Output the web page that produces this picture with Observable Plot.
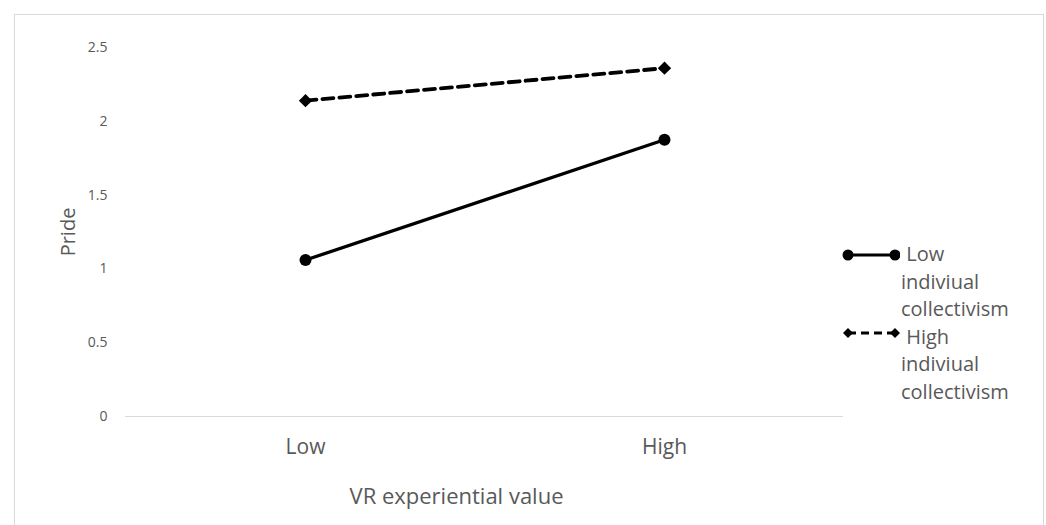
<!DOCTYPE html>
<html>
<head>
<meta charset="utf-8">
<script src="https://cdn.jsdelivr.net/npm/d3@7"></script>
<script src="https://cdn.jsdelivr.net/npm/@observablehq/plot@0.6"></script>
<style>
  html, body { margin: 0; padding: 0; background: #fff; }
  #wrap { position: relative; width: 1046px; height: 525px; overflow: hidden; font-family: "Open Sans", sans-serif; }
  #frame { position: absolute; left: 14px; top: 14px; width: 1030px; height: 600px; border: 1px solid #d9d9d9; box-sizing: border-box; pointer-events: none; }
  #legend { position: absolute; left: 840px; top: 240px; color: #595959; font-size: 20px; }
  .item { position: absolute; left: 0; width: 206px; }
  .item svg { position: absolute; left: 0; }
  .item .txt { position: absolute; left: 61px; top: 0; line-height: 27.5px; white-space: nowrap; }
</style>
</head>
<body>
<div id="wrap">
  <div id="chart"></div>
  <div id="frame"></div>
  <div id="legend"></div>
</div>
<script>
// Data
const categories = ["Low", "High"];
const seriesNames = ["Low indiviual collectivism", "High indiviual collectivism"];
const lowCollectivism = [1.06, 1.875];
const highCollectivism = [2.14, 2.36];
const yTicks = [0, 0.5, 1, 1.5, 2, 2.5];
const xTitle = "VR experiential value";
const yTitle = "Pride";

const lowData = categories.map((c, i) => ({x: c, y: lowCollectivism[i]}));
const highData = categories.map((c, i) => ({x: c, y: highCollectivism[i]}));

const chart = Plot.plot({
  width: 1046,
  height: 525,
  marginLeft: 125,
  marginRight: 203,
  marginTop: 47,
  marginBottom: 109,
  style: { fontFamily: "'Open Sans', sans-serif", background: "transparent", overflow: "visible" },
  x: { type: "point", domain: categories, padding: 0.5 },
  y: { domain: [0, 2.5] },
  marks: [
    Plot.axisY({ticks: yTicks, tickFormat: d => String(d), tickSize: 0, tickPadding: 18, fontSize: 14, color: "#595959", label: null}),
    Plot.axisX({tickSize: 0, tickPadding: 23, fontSize: 21, color: "#595959", label: null}),
    Plot.ruleY([0], {stroke: "#d9d9d9", strokeWidth: 1}),
    Plot.line(highData, {x: "x", y: "y", stroke: "black", strokeWidth: 3.8, strokeDasharray: "11,6"}),
    Plot.dot(highData, {x: "x", y: "y", symbol: "diamond2", r: 6, fill: "black"}),
    Plot.line(lowData, {x: "x", y: "y", stroke: "black", strokeWidth: 3.3}),
    Plot.dot(lowData, {x: "x", y: "y", symbol: "circle", r: 6, fill: "black"}),
    Plot.text([xTitle], {frameAnchor: "bottom", lineAnchor: "middle", dx: -28, dy: 80, fontSize: 22, fill: "#595959"}),
    Plot.text([yTitle], {frameAnchor: "left", textAnchor: "middle", lineAnchor: "middle", dx: -57, dy: 0, rotate: -90, fontSize: 20, fill: "#595959"})
  ]
});
document.getElementById("chart").appendChild(chart);

// Legend
const legend = document.getElementById("legend");
const legendDefs = [
  {name: seriesNames[0], lines: ["\u00a0Low", "indiviual", "collectivism"], dash: null, sym: "circle", top: 0, swatchTop: 1},
  {name: seriesNames[1], lines: ["\u00a0High", "indiviual", "collectivism"], dash: "8,5", sym: "diamond", top: 82.5, swatchTop: -3.5}
];
legendDefs.forEach(d => {
  const item = document.createElement("div");
  item.className = "item";
  item.style.top = d.top + "px";
  const svg = d3.create("svg").attr("width", 60).attr("height", 28).style("top", d.swatchTop + "px");
  svg.append("line").attr("x1", 8).attr("x2", 55).attr("y1", 14).attr("y2", 14)
    .attr("stroke", "black").attr("stroke-width", 3.2).attr("stroke-dasharray", d.dash);
  [8, 55].forEach(cx => {
    if (d.sym === "circle") {
      svg.append("circle").attr("cx", cx).attr("cy", 14).attr("r", 5.5).attr("fill", "black");
    } else {
      svg.append("path").attr("d", `M${cx},${14-5}L${cx+5},14L${cx},${14+5}L${cx-5},14Z`).attr("fill", "black");
    }
  });
  item.appendChild(svg.node());
  const t = document.createElement("div");
  t.className = "txt";
  t.innerHTML = d.lines.join("<br>");
  item.appendChild(t);
  legend.appendChild(item);
});
</script>
</body>
</html>
